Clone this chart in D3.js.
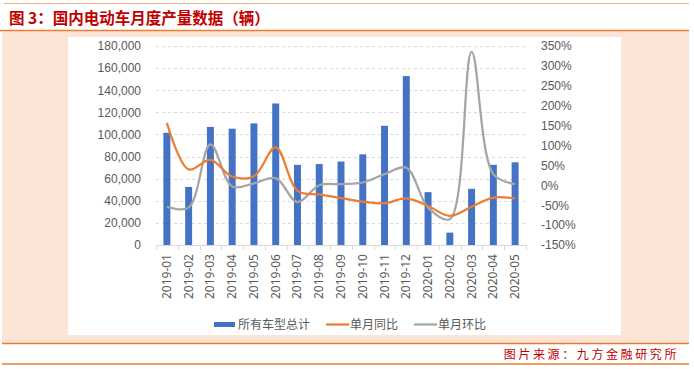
<!DOCTYPE html>
<html>
<head>
<meta charset="utf-8">
<script src="https://cdn.jsdelivr.net/npm/d3@7"></script>
<style>
  body { margin: 0; background: #fff; }
  svg { display: block; font-family: "Noto Sans", "Noto Sans CJK SC", sans-serif; }
</style>
</head>
<body>
<div id="chart"></div>
<script>
// Data
var months = ["2019-01","2019-02","2019-03","2019-04","2019-05","2019-06","2019-07","2019-08","2019-09",
              "2019-10","2019-11","2019-12","2020-01","2020-02","2020-03","2020-04","2020-05"];
var output = [101500, 52500, 106800, 105200, 110000, 128000, 72500, 73200, 75500,
              82000, 107800, 152800, 47800, 11200, 50800, 72500, 74800];
var yoy = [157, 40, 64, 22, 23, 95, -14, -23, -32, -41, -45, -33, -52, -77, -54, -31, -33];
var mom = [-54, -56, 103, -3, 5, 18, -42, 0, 3, 7, 28, 44, -56, -85, 335, 28, 3];
var leftTicks = [0, 20000, 40000, 60000, 80000, 100000, 120000, 140000, 160000, 180000];
var rightTicks = [-150, -100, -50, 0, 50, 100, 150, 200, 250, 300, 350];

var W = 694, H = 369;
var plot = {left: 156, right: 526, top: 46, bottom: 245};

var svg = d3.select("#chart").append("svg")
    .attr("width", W)
    .attr("height", H);

// frame: title bar, peach panel, white chart area, footer
svg.append("line").attr("x1", 4).attr("x2", 689).attr("y1", 3.5).attr("y2", 3.5)
    .attr("stroke", "#F4B183").attr("stroke-width", 1);
svg.append("text").attr("x", 9).attr("y", 24)
    .attr("fill", "#C00000").attr("font-weight", "bold").attr("font-size", "15.5px")
    .style("font-family", "'Noto Sans CJK SC', sans-serif")
    .text("图 3：国内电动车月度产量数据（辆）");
svg.append("rect").attr("x", 2).attr("y", 31).attr("width", 687).attr("height", 312).attr("fill", "#FCE4D6");
svg.append("line").attr("x1", 0).attr("x2", 689).attr("y1", 30.5).attr("y2", 30.5)
    .attr("stroke", "#ED7D31").attr("stroke-width", 1.5);
svg.append("rect").attr("x", 68).attr("y", 37).attr("width", 553).attr("height", 298).attr("fill", "#fff");
svg.append("line").attr("x1", 2).attr("x2", 689).attr("y1", 343.5).attr("y2", 343.5)
    .attr("stroke", "#ED7D31").attr("stroke-width", 1.5);
svg.append("line").attr("x1", 2).attr("x2", 689).attr("y1", 364).attr("y2", 364)
    .attr("stroke", "#ED7D31").attr("stroke-width", 1.5);
svg.append("text").attr("x", 679).attr("y", 359)
    .attr("text-anchor", "end").attr("fill", "#C00000").attr("font-size", "12px")
    .style("font-family", "'Noto Sans CJK SC', sans-serif")
    .style("letter-spacing", "2.6px")
    .text("图片来源：九方金融研究所");

// scales
var x = d3.scaleBand()
    .domain(months)
    .range([plot.left, plot.right])
    .paddingInner(0.68)
    .paddingOuter(0.34);

var y = d3.scaleLinear()
    .domain([0, 180000])
    .range([plot.bottom, plot.top]);

var y2 = d3.scaleLinear()
    .domain([-150, 350])
    .range([plot.bottom, plot.top]);

function cx(d) { return x(d) + x.bandwidth() / 2; }

// gridlines
svg.append("g")
  .selectAll("line")
  .data(leftTicks.slice(1))
  .enter().append("line")
    .attr("x1", plot.left).attr("x2", plot.right)
    .attr("y1", function(d) { return Math.round(y(d)) + 0.5; })
    .attr("y2", function(d) { return Math.round(y(d)) + 0.5; })
    .attr("stroke", "#D9D9D9")
    .attr("stroke-dasharray", "3,3");

// left axis
var yAxis = d3.axisLeft(y).tickValues(leftTicks).tickFormat(d3.format(",")).tickSize(0).tickPadding(0);
svg.append("g")
    .attr("transform", "translate(141,0)")
    .call(yAxis)
    .call(function(g) { g.select(".domain").remove(); })
    .selectAll("text")
      .attr("fill", "#595959").attr("font-size", "12px");

// right axis
var yAxis2 = d3.axisRight(y2).tickValues(rightTicks).tickFormat(function(d) { return d + "%"; }).tickSize(0).tickPadding(0);
svg.append("g")
    .attr("transform", "translate(541,0)")
    .call(yAxis2)
    .call(function(g) { g.select(".domain").remove(); })
    .selectAll("text")
      .attr("fill", "#595959").attr("font-size", "12px");

// bars
svg.append("g")
  .selectAll("rect")
  .data(months)
  .enter().append("rect")
    .attr("x", function(d) { return x(d); })
    .attr("width", x.bandwidth())
    .attr("y", function(d, i) { return y(output[i]); })
    .attr("height", function(d, i) { return y(0) - y(output[i]); })
    .attr("fill", "#4472C4");

// x axis with tick marks between categories
var step = x.step();
svg.append("line")
    .attr("x1", plot.left).attr("x2", plot.right)
    .attr("y1", plot.bottom + 0.5).attr("y2", plot.bottom + 0.5)
    .attr("stroke", "#D9D9D9");
svg.append("g")
  .selectAll("line")
  .data(d3.range(months.length + 1))
  .enter().append("line")
    .attr("x1", function(i) { return Math.round(plot.left + i * step) + 0.5; })
    .attr("x2", function(i) { return Math.round(plot.left + i * step) + 0.5; })
    .attr("y1", plot.bottom).attr("y2", plot.bottom + 5)
    .attr("stroke", "#D9D9D9");

svg.append("g")
  .selectAll("text")
  .data(months)
  .enter().append("text")
    .attr("transform", function(d) { return "translate(" + (cx(d) + 4) + "," + (plot.bottom + 9) + ") rotate(-90)"; })
    .attr("text-anchor", "end")
    .attr("fill", "#595959")
    .attr("font-size", "12px")
    .text(function(d) { return d; });

// lines
var line = d3.line()
    .x(function(d, i) { return cx(months[i]); })
    .y(function(d) { return y2(d); })
    .curve(d3.curveCatmullRom.alpha(0.5));

svg.append("path")
    .datum(mom)
    .attr("d", line)
    .attr("fill", "none")
    .attr("stroke", "#A5A5A5")
    .attr("stroke-width", 2.25);

svg.append("path")
    .datum(yoy)
    .attr("d", line)
    .attr("fill", "none")
    .attr("stroke", "#ED7D31")
    .attr("stroke-width", 2.25);

// legend
var legend = svg.append("g").attr("font-size", "12px").attr("fill", "#595959")
    .style("font-family", "'Noto Sans CJK SC', sans-serif");
legend.append("rect").attr("x", 214).attr("y", 322).attr("width", 21).attr("height", 5).attr("fill", "#4472C4");
legend.append("text").attr("x", 238).attr("y", 329).text("所有车型总计");
legend.append("line").attr("x1", 326).attr("x2", 349).attr("y1", 324.5).attr("y2", 324.5)
    .attr("stroke", "#ED7D31").attr("stroke-width", 2.25);
legend.append("text").attr("x", 350).attr("y", 329).text("单月同比");
legend.append("line").attr("x1", 414).attr("x2", 437).attr("y1", 324.5).attr("y2", 324.5)
    .attr("stroke", "#A5A5A5").attr("stroke-width", 2.25);
legend.append("text").attr("x", 438).attr("y", 329).text("单月环比");
</script>
</body>
</html>
